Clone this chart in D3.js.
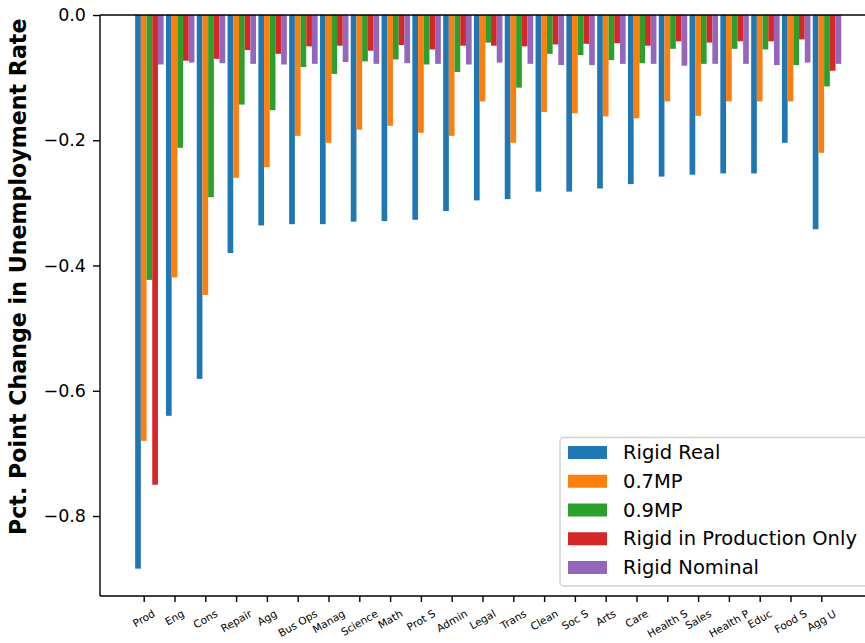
<!DOCTYPE html>
<html>
<head>
<meta charset="utf-8">
<script src="https://cdn.jsdelivr.net/npm/d3@7"></script>
<style>
  html, body { margin: 0; padding: 0; background: #fff; }
  svg { display: block; font-family: "DejaVu Sans", sans-serif; }
</style>
</head>
<body>
<svg id="chart" width="865" height="643"></svg>
<script>
const categories = ["Prod","Eng","Cons","Repair","Agg","Bus Ops","Manag","Science","Math","Prot S","Admin","Legal","Trans","Clean","Soc S","Arts","Care","Health S","Sales","Health P","Educ","Food S","Agg U"];
const rigidReal    = [-0.884,-0.640,-0.581,-0.380,-0.336,-0.334,-0.334,-0.330,-0.329,-0.327,-0.313,-0.296,-0.294,-0.282,-0.282,-0.277,-0.270,-0.258,-0.255,-0.253,-0.253,-0.204,-0.342];
const mp07         = [-0.680,-0.419,-0.447,-0.260,-0.243,-0.193,-0.204,-0.183,-0.177,-0.188,-0.193,-0.138,-0.204,-0.155,-0.157,-0.162,-0.165,-0.138,-0.161,-0.138,-0.138,-0.138,-0.220];
const mp09         = [-0.423,-0.212,-0.291,-0.143,-0.152,-0.083,-0.094,-0.074,-0.071,-0.079,-0.091,-0.044,-0.116,-0.062,-0.064,-0.072,-0.077,-0.054,-0.078,-0.054,-0.055,-0.080,-0.114];
const rigidProd    = [-0.750,-0.073,-0.070,-0.056,-0.062,-0.050,-0.049,-0.057,-0.048,-0.055,-0.049,-0.049,-0.050,-0.047,-0.046,-0.045,-0.049,-0.042,-0.044,-0.042,-0.042,-0.039,-0.089];
const rigidNominal = [-0.079,-0.076,-0.077,-0.078,-0.079,-0.078,-0.075,-0.078,-0.077,-0.078,-0.079,-0.076,-0.078,-0.080,-0.080,-0.078,-0.078,-0.081,-0.078,-0.078,-0.080,-0.076,-0.078];
const seriesNames  = ["Rigid Real","0.7MP","0.9MP","Rigid in Production Only","Rigid Nominal"];
const seriesColors = ["#1f77b4","#ff7f0e","#2ca02c","#d62728","#9467bd"];
const yTicks = [0, -0.2, -0.4, -0.6, -0.8];

const series = [rigidReal, mp07, mp09, rigidProd, rigidNominal];
const svg = d3.select("#chart");

const L = 100, T = 15, B = 596, R = 880;
const x = d3.scaleLinear().domain([0, 22]).range([143.7, 821.3]);
const y = d3.scaleLinear().domain([-0.9277, 0]).range([B, T]);
const barW = 0.185;
const offsets = [-1, 0, 1, 2, 3];

// bars
series.forEach((vals, s) => {
  svg.append("g").selectAll("rect").data(vals).join("rect")
    .attr("x", (d, i) => x(i + offsets[s] * barW - barW / 2))
    .attr("width", x(barW) - x(0))
    .attr("y", y(0))
    .attr("height", d => y(d) - y(0))
    .attr("fill", seriesColors[s]);
});

// frame
const frame = svg.append("g").attr("stroke", "#000").attr("stroke-width", 1.4).attr("fill", "none");
frame.append("line").attr("x1", L).attr("x2", R).attr("y1", T).attr("y2", T);
frame.append("line").attr("x1", L).attr("x2", R).attr("y1", B).attr("y2", B);
frame.append("line").attr("x1", L).attr("x2", L).attr("y1", T).attr("y2", B);

// y axis
const yAxis = d3.axisLeft(y).tickValues(yTicks).tickSize(7).tickPadding(7)
  .tickFormat(d => d3.format(".1f")(d).replace("-", "\u2212"));
const gy = svg.append("g").attr("transform", `translate(${L},0)`).call(yAxis);
gy.select(".domain").remove();
gy.selectAll(".tick line").attr("stroke", "#000").attr("stroke-width", 1.4);
gy.selectAll(".tick text").attr("font-size", "17.5px").attr("fill", "#000")
  .attr("font-family", "DejaVu Sans");

// x axis
const xAxis = d3.axisBottom(x).tickValues(d3.range(categories.length)).tickSize(6).tickFormat("");
const gx = svg.append("g").attr("transform", `translate(0,${B})`).call(xAxis);
gx.select(".domain").remove();
gx.selectAll(".tick line").attr("stroke", "#000").attr("stroke-width", 1.4);

const ang = 30 * Math.PI / 180;
const fs = 10.5;
const lab = svg.append("g").attr("font-size", fs + "px").attr("fill", "#000");
categories.forEach((c, i) => {
  const t = lab.append("text").text(c).attr("text-anchor", "middle")
    .attr("dominant-baseline", "central");
  const w = t.node().getComputedTextLength();
  const h = fs * 1.17;
  const bh = w * Math.sin(ang) + h * Math.cos(ang);
  const cy = B + 6 + 5 + bh / 2;
  t.attr("transform", `translate(${x(i)},${cy}) rotate(-30)`);
});

// y label: spans from y=535 upward to y=18
const yl = svg.append("text")
  .attr("text-anchor", "start")
  .attr("font-weight", "bold")
  .attr("font-size", "17.5px")
  .attr("fill", "#000")
  .text("Pct. Point Change in Unemployment Rate");
const len = yl.node().getComputedTextLength();
const yfs = 17.5 * 517 / len;
yl.attr("font-size", yfs + "px")
  .attr("transform", `translate(26,535) rotate(-90)`);

// legend
const lg = svg.append("g");
lg.append("rect").attr("x", 560).attr("y", 437.5).attr("width", 330).attr("height", 148.5)
  .attr("rx", 4).attr("fill", "#fff").attr("fill-opacity", 0.8)
  .attr("stroke", "#d0d0d0").attr("stroke-width", 1.4);
seriesNames.forEach((n, i) => {
  const cy = 452.5 + i * 28.75;
  lg.append("rect").attr("x", 568).attr("y", cy - 6.5).attr("width", 39).attr("height", 13)
    .attr("fill", seriesColors[i]);
  lg.append("text").attr("x", 623).attr("y", cy).attr("dominant-baseline", "central")
    .attr("font-size", "19.5px").attr("fill", "#000").text(n);
});
</script>
</body>
</html>
